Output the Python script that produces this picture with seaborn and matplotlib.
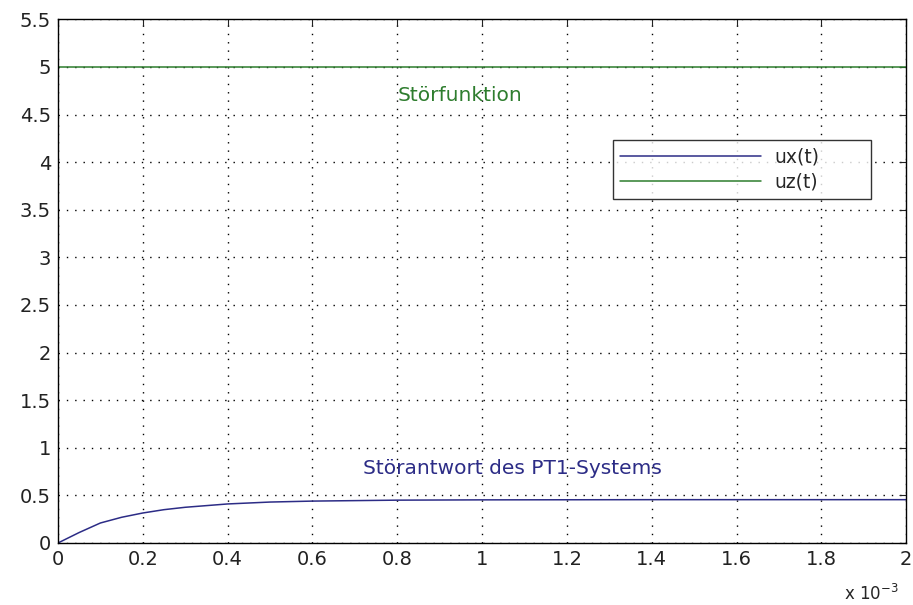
import matplotlib
matplotlib.use("Agg")
import matplotlib.pyplot as plt
import matplotlib.ticker as mticker
import seaborn as sns
import pandas as pd

# time in seconds
t = [0, 0.05e-3, 0.1e-3, 0.15e-3, 0.2e-3, 0.25e-3, 0.3e-3, 0.4e-3, 0.5e-3,
     0.6e-3, 0.7e-3, 0.8e-3, 1.0e-3, 1.2e-3, 1.4e-3, 1.6e-3, 1.8e-3, 2.0e-3]
ux = [0, 0.11, 0.21, 0.27, 0.315, 0.35, 0.375, 0.41, 0.43,
      0.44, 0.445, 0.45, 0.453, 0.454, 0.455, 0.455, 0.455, 0.455]
uz = [5.0] * len(t)

xticks = [0, 0.2e-3, 0.4e-3, 0.6e-3, 0.8e-3, 1.0e-3, 1.2e-3, 1.4e-3, 1.6e-3, 1.8e-3, 2.0e-3]
yticks = [0, 0.5, 1, 1.5, 2, 2.5, 3, 3.5, 4, 4.5, 5, 5.5]

blue = "#2c2c86"
green = "#2e7d2e"

sns.set_style("white")
plt.rcParams['font.family'] = ['DejaVu Sans']

df = pd.DataFrame({"t": t + t, "u": ux + uz,
                   "signal": ["ux(t)"] * len(t) + ["uz(t)"] * len(t)})

fig = plt.figure(figsize=(9.13, 6.05), dpi=100)
ax = fig.add_axes([0.0635, 0.1025, 0.929, 0.8655])
sns.lineplot(data=df, x="t", y="u", hue="signal", palette=[blue, green],
             linewidth=1.1, ax=ax)

ax.set_xlim(0, 2e-3)
ax.set_ylim(0, 5.5)
ax.set_xticks(xticks)
ax.set_yticks(yticks)
ax.xaxis.set_major_formatter(mticker.FuncFormatter(lambda v, p: f"{v * 1e3:g}"))
ax.yaxis.set_major_formatter(mticker.FuncFormatter(lambda v, p: f"{v:g}"))
ax.tick_params(direction="in", length=5, top=True, right=True, labelsize=14,
               colors="#222222", pad=5)
ax.set_xlabel("")
ax.set_ylabel("")
ax.grid(True, linestyle=(0, (1, 5)), color="black", linewidth=1.0)
for s in ax.spines.values():
    s.set_color("black")
    s.set_linewidth(1.0)

ax.text(0.8e-3, 4.7, "Störfunktion", color=green, fontsize=14.5, va="center")
ax.text(0.72e-3, 0.78, "Störantwort des PT1-Systems", color=blue, fontsize=14.5,
        va="center")
fig.text(0.984, 0.018, "x 10$^{-3}$", ha="right", va="center", fontsize=12)

ax.legend(loc="upper left", bbox_to_anchor=(0.654, 0.649, 0.305, 0.121), mode="expand",
          handlelength=7.5, handletextpad=0.7, fontsize=13.5, frameon=True,
          fancybox=False, edgecolor="black", borderpad=0.4, labelspacing=0.35,
          borderaxespad=0)

plt.savefig("out.png", dpi=100)
plt.close()
